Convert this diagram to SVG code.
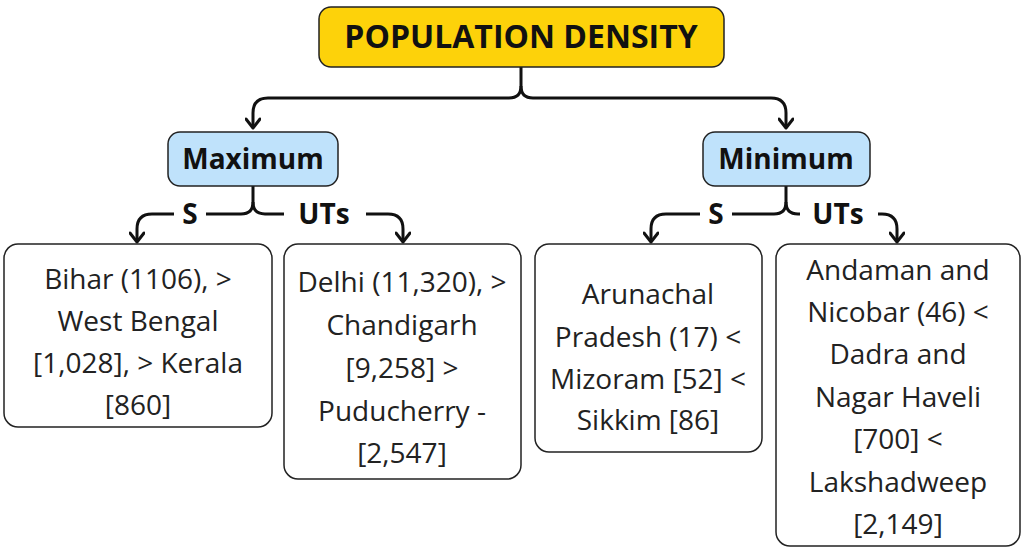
<svg xmlns="http://www.w3.org/2000/svg" width="1024" height="553" viewBox="0 0 1024 553">
<defs>
<marker id="ah" viewBox="0 0 16 16" refX="14" refY="8" markerWidth="16" markerHeight="16" markerUnits="userSpaceOnUse" orient="auto">
<path d="M5,1 L14,8 L5,15" fill="none" stroke="#111" stroke-width="3" stroke-linejoin="round" stroke-linecap="round"/>
</marker>
<style>
.c{fill:none;stroke:#111;stroke-width:3;stroke-linejoin:round}
.t{font-family:"Open Sans","Noto Sans",sans-serif;font-size:28px;fill:#222;text-anchor:middle}
.b{font-family:"Open Sans","Noto Sans",sans-serif;font-weight:bold;fill:#111;text-anchor:middle}
.box{fill:#fff;stroke:#222;stroke-width:1.5}
.lb{fill:#fff}
</style>
</defs>
<rect width="1024" height="553" fill="#fff"/>
<g id="connectors">
<path class="c" d="M521,67 V86 Q521,98 509,98 H268 Q253,98 253,113 V128" marker-end="url(#ah)"/>
<path class="c" d="M521,86 Q521,98 533,98 H771 Q786,98 786,113 V128" marker-end="url(#ah)"/>
<path class="c" d="M253,186 V202 Q253,214 241,214 H152 Q137,214 137,229 V242" marker-end="url(#ah)"/>
<path class="c" d="M253,202 Q253,214 265,214 H388 Q403,214 403,229 V242" marker-end="url(#ah)"/>
<path class="c" d="M786,186 V202 Q786,214 774,214 H666 Q651,214 651,229 V242" marker-end="url(#ah)"/>
<path class="c" d="M786,202 Q786,214 798,214 H882 Q897,214 897,229 V242" marker-end="url(#ah)"/>
<rect class="lb" x="174" y="198" width="32" height="32"/>
<rect class="lb" x="284" y="198" width="82" height="32"/>
<rect class="lb" x="700" y="198" width="32" height="32"/>
<rect class="lb" x="800" y="198" width="78" height="32"/>
<text class="b" x="190" y="224" font-size="28">S</text>
<text class="b" x="324" y="224" font-size="28">UTs</text>
<text class="b" x="716" y="224" font-size="28">S</text>
<text class="b" x="838" y="224" font-size="28">UTs</text>
</g>
<g id="root"><rect x="319" y="7" width="405" height="60" rx="12" fill="#fdd20a" stroke="#222" stroke-width="1.5"/><text class="b" x="521" y="48" font-size="32">POPULATION DENSITY</text></g>
<g id="maximum"><rect x="168" y="132" width="170" height="54" rx="12" fill="#bfe2fb" stroke="#222" stroke-width="1.5"/><text class="b" x="253" y="169" font-size="28">Maximum</text></g>
<g id="minimum"><rect x="703" y="132" width="167" height="54" rx="12" fill="#bfe2fb" stroke="#222" stroke-width="1.5"/><text class="b" x="786" y="169" font-size="28">Minimum</text></g>
<g id="max-s"><rect class="box" x="4" y="244" width="268" height="183" rx="14"/>
<text class="t"><tspan x="138" y="289">Bihar (1106), &gt;</tspan><tspan x="138" y="331">West Bengal</tspan><tspan x="138" y="373">[1,028], &gt; Kerala</tspan><tspan x="138" y="415">[860]</tspan></text></g>
<g id="max-ut"><rect class="box" x="284" y="244" width="237" height="235" rx="14"/>
<text class="t"><tspan x="402" y="292">Delhi (11,320), &gt;</tspan><tspan x="402" y="335">Chandigarh</tspan><tspan x="402" y="378">[9,258] &gt;</tspan><tspan x="402" y="421">Puducherry -</tspan><tspan x="402" y="463">[2,547]</tspan></text></g>
<g id="min-s"><rect class="box" x="535" y="244" width="227" height="208" rx="14"/>
<text class="t"><tspan x="648" y="304">Arunachal</tspan><tspan x="648" y="347">Pradesh (17) &lt;</tspan><tspan x="648" y="389">Mizoram [52] &lt;</tspan><tspan x="648" y="430">Sikkim [86]</tspan></text></g>
<g id="min-ut"><rect class="box" x="776" y="244" width="244" height="302" rx="14"/>
<text class="t"><tspan x="898" y="280">Andaman and</tspan><tspan x="898" y="322">Nicobar (46) &lt;</tspan><tspan x="898" y="364">Dadra and</tspan><tspan x="898" y="407">Nagar Haveli</tspan><tspan x="898" y="449">[700] &lt;</tspan><tspan x="898" y="492">Lakshadweep</tspan><tspan x="898" y="534">[2,149]</tspan></text></g>
</svg>
